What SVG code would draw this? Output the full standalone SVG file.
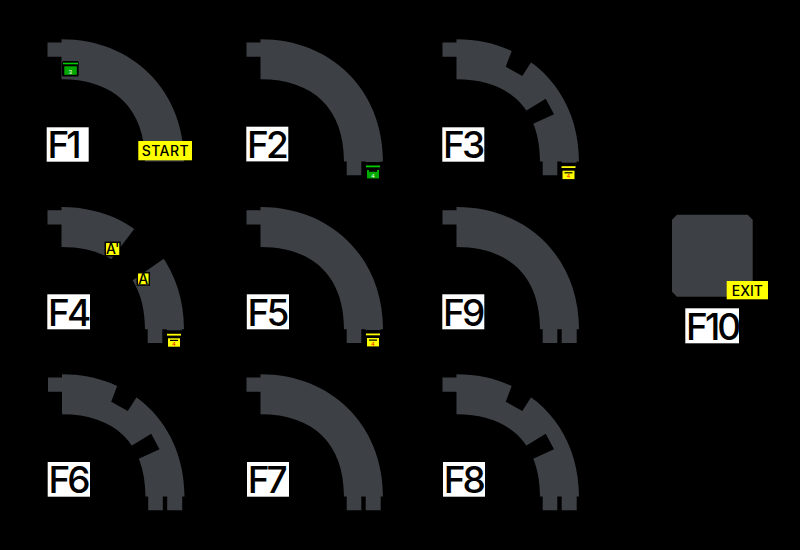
<svg xmlns="http://www.w3.org/2000/svg" width="800" height="550" viewBox="0 0 800 550">
<style>
.b{fill:#3d4045}
.k{fill:#000}
.l{fill:#fff}
.y{fill:#ff0}
.g{fill:#0a0}
.gl{fill:#0c0}
.t{font-family:Inter,"Liberation Sans",sans-serif;font-size:37px;font-weight:500;fill:#000;letter-spacing:-3px}
.s{font-family:Inter,"Liberation Sans",sans-serif;font-size:14px;font-weight:500;fill:#000;text-anchor:middle}
.n{font-family:"Liberation Sans",Arial,sans-serif;font-size:6px;text-anchor:middle}
</style>
<defs>
<path id="band" d="M-14 3.200H0V0C71 0 122.500 51 122.500 122.300H120.200V136H105.200V122.300H100.800V136H86.200V122.300H83.500C83.500 69.300 52.700 40 0 40V17.400H-14Z"/>
<path id="band0" d="M-14 3.200H0V0C71 0 122.500 51 122.500 122.300H83.500C83.500 69.300 52.700 40 0 40V17.400H-14Z"/>
<g id="gaps">
<path class="k" d="M63 -9L49.200 27.400L65.800 36.700L86.600 4.100Z"/>
<path class="k" d="M54.400 80.600L89.200 59.400L97.500 75L60.900 91.800Z"/>
</g>
<g id="mg">
<rect class="k" x="-2" y="-8" width="16.500" height="19"/>
<rect class="gl" x="-1" y="-4.500" width="14" height="1.800"/>
<rect class="g" width="12" height="8.400"/>
<rect class="k" x="2" y="0" width="8" height="1.800"/>
<text class="n" x="6" y="7.500" fill="#fff">4</text>
</g>
<g id="my">
<rect class="k" x="-2" y="-8" width="16.500" height="19"/>
<rect class="y" x="-1" y="-4.500" width="14" height="1.800"/>
<rect class="y" width="12" height="8.400"/>
<rect class="k" x="2" y="1.500" width="8" height="1.200"/>
<text class="n" x="6" y="7.800" fill="#f00">4</text>
</g>
</defs>
<rect width="800" height="550" fill="#000"/>

<g id="F1">
<use href="#band0" class="b" x="61.500" y="39.300"/>
<rect class="k" x="62" y="61" width="16.700" height="15.500" rx="1.500"/>
<rect class="gl" x="63" y="62.700" width="15" height="1.600"/>
<rect class="g" x="64.300" y="66.300" width="12.500" height="8.500"/>
<text class="n" x="70.500" y="73.800" fill="#fff">3</text>
<rect class="l" x="46.700" y="127.300" width="42" height="34.400"/>
<text class="t" x="47.500" y="158">F1</text>
<rect class="y" x="138.300" y="141" width="53.700" height="19.300"/>
<text class="s" x="165.200" y="156" textLength="47">START</text>
</g>

<g id="F2">
<use href="#band" class="b" x="260.500" y="39.300"/>
<use href="#mg" x="367" y="170"/>
<rect class="l" x="246.300" y="126.700" width="42" height="34.700"/>
<text class="t" x="247.100" y="158">F2</text>
</g>

<g id="F3">
<use href="#band" class="b" x="456.500" y="39.300"/>
<use href="#gaps" x="456.500" y="39.300"/>
<use href="#my" x="562.500" y="170.700"/>
<rect class="l" x="442.300" y="127.300" width="42" height="34.400"/>
<text class="t" x="443.100" y="158">F3</text>
</g>

<g id="F4">
<use href="#band" class="b" x="61.500" y="207"/>
<path class="k" d="M160.400 194.400L101.100 272.600L120.200 289.100L182.200 245.900L191.500 197Z"/>
<use href="#my" x="168" y="338.300"/>
<rect class="y" x="105.300" y="242.300" width="14.700" height="13.400" stroke="#000" stroke-width="1.500"/>
<text class="s" x="112.700" y="254">A'</text>
<rect class="y" x="137.300" y="272.700" width="12" height="12.300" stroke="#000" stroke-width="1.500"/>
<text class="s" x="143.300" y="284">A</text>
<rect class="l" x="47.300" y="294.300" width="42.700" height="35"/>
<text class="t" x="48.100" y="325.500">F4</text>
</g>

<g id="F5">
<use href="#band" class="b" x="260.500" y="207"/>
<use href="#my" x="367" y="338"/>
<rect class="l" x="246.800" y="294.300" width="42.200" height="35"/>
<text class="t" x="247.600" y="325.500">F5</text>
</g>

<g id="F9">
<use href="#band" class="b" x="456.500" y="207"/>
<rect class="l" x="442.300" y="294.300" width="42" height="35"/>
<text class="t" x="443.100" y="325.500">F9</text>
</g>

<g id="F10">
<path class="b" d="M677 214.700H747.700L752.700 219.700V296.700H677L672 291.700V219.700Z"/>
<rect class="y" x="726.700" y="281" width="41.300" height="18.300"/>
<text class="s" x="747.300" y="295.500">EXIT</text>
<rect class="l" x="685.300" y="308.300" width="53.700" height="35"/>
<text class="t" x="686.100" y="339.500">F10</text>
</g>

<g id="F6">
<use href="#band" class="b" x="62" y="374.300"/>
<use href="#gaps" x="62" y="374.300"/>
<rect class="l" x="47.700" y="462" width="42.300" height="34.700"/>
<text class="t" x="48.500" y="493">F6</text>
</g>

<g id="F7">
<use href="#band" class="b" x="260.500" y="374.300"/>
<rect class="l" x="247" y="462" width="42" height="34.700"/>
<text class="t" x="247.800" y="493">F7</text>
</g>

<g id="F8">
<use href="#band" class="b" x="456.500" y="374.300"/>
<use href="#gaps" x="456.500" y="374.300"/>
<rect class="l" x="443" y="462" width="42" height="34.700"/>
<text class="t" x="443.800" y="493">F8</text>
</g>
</svg>
